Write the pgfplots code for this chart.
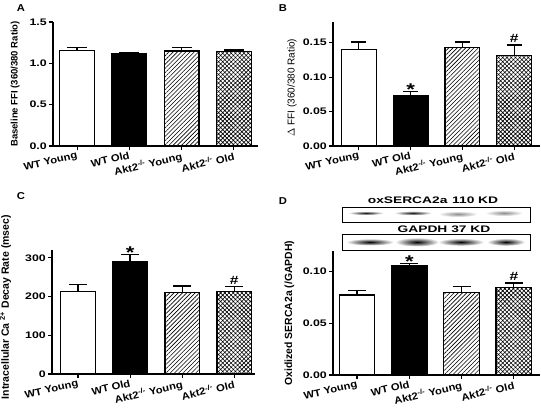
\documentclass[border=0pt]{standalone}
\usepackage{pgfplots}
\pgfplotsset{compat=1.18}
\usetikzlibrary{patterns.meta}
\usepackage{fontspec}
\setmainfont{Liberation Sans}
\newfontfamily\xtf{Liberation Sans}[FakeStretch=1.12]
\newfontfamily\ytf{Liberation Sans}[FakeStretch=1.3]
\newfontfamily\blf{Liberation Sans}[FakeStretch=1.45]
\pgfplotsset{
  panel/.style={
    scale only axis, height=124pt, ymin=0,
    axis x line*=bottom, axis y line*=left,
    axis line style={line width=1.2pt,-},
    tick style={line width=1.1pt,black},
    tick align=outside, major tick length=4pt,
    xtick={1,2,3,4},
    xticklabels={WT Young, WT Old, Akt2\textsuperscript{-/-} Young, Akt2\textsuperscript{-/-} Old},
    xticklabel style={rotate=13, anchor=north east, inner sep=1pt, font=\xtf\bfseries\fontsize{10}{12}\selectfont},
    yticklabel style={font=\ytf\bfseries\fontsize{9.5}{11}\selectfont, inner sep=2pt},
    /pgf/number format/assume math mode=true,
    ylabel style={font=\bfseries\fontsize{10}{11}\selectfont, anchor=center},
    clip=false,
  },
  bb/.style={ybar, bar shift=0pt, draw=black, line width=1.2pt,
    error bars/y dir=plus, error bars/y explicit,
    error bars/error bar style={line width=1.2pt, black},
    error bars/error mark options={rotate=90, mark size=#1, line width=1.2pt, black}},
}
\tikzset{
  hatchA/.style={pattern={Lines[angle=45,distance=3pt,line width=0.6pt]}},
  hatchB/.style={pattern={Hatch[angle=45,distance=3pt,line width=0.6pt]}},
  sigstar/.style={font=\ytf\bfseries\fontsize{17}{17}\selectfont, anchor=south, inner sep=0pt, yshift=-4pt},
  sighash/.style={font=\ytf\bfseries\fontsize{12}{12}\selectfont, anchor=south, inner sep=0pt, yshift=2pt},
}
\begin{document}
\begin{tikzpicture}
\path[use as bounding box] (0,0) rectangle (541pt,416pt);

% Panel A
\begin{axis}[panel, width=205pt, at={(53pt,270pt)}, anchor=south west,
  xmin=0.54, xmax=4.46, ymax=1.5, ytick={0,0.5,1.0,1.5},
  yticklabel style={/pgf/number format/.cd, fixed, fixed zerofill, precision=1},
  ylabel={Baseline FFI (360/380 Ratio)},
  ylabel style={font=\bfseries\fontsize{9.5}{11}\selectfont, at={(axis description cs:-0.185,0.5)}}]
\addplot[bar width=0.66, bb=10pt, fill=white] coordinates {(1,1.151) +- (0,0.036)};
\addplot[bar width=0.66, bb=10pt, fill=black] coordinates {(2,1.120) +- (0,0.014)};
\addplot[bar width=0.66, bb=10pt, fill=white, hatchA] coordinates {(3,1.150) +- (0,0.044)};
\addplot[bar width=0.66, bb=10pt, fill=white, hatchB] coordinates {(4,1.143) +- (0,0.018)};
\end{axis}

% Panel B
\begin{axis}[panel, width=207pt, at={(333pt,270pt)}, anchor=south west,
  xmin=0.5, xmax=4.5, ymax=0.18, ytick={0,0.05,0.10,0.15},
  yticklabel style={/pgf/number format/.cd, fixed, fixed zerofill, precision=2},
  ylabel={$\Delta$ FFI (360/380 Ratio)},
  ylabel style={font=\fontsize{10}{11}\selectfont, at={(axis description cs:-0.198,0.47)}}]
\addplot[bar width=0.67, bb=7.5pt, fill=white] coordinates {(1,0.140) +- (0,0.011)};
\addplot[bar width=0.67, bb=7.5pt, fill=black] coordinates {(2,0.0738) +- (0,0.005)};
\addplot[bar width=0.67, bb=7.5pt, fill=white, hatchA] coordinates {(3,0.1426) +- (0,0.0085)};
\addplot[bar width=0.67, bb=7.5pt, fill=white, hatchB] coordinates {(4,0.1314) +- (0,0.0152)};
\node[sigstar] at (axis cs:2,0.0788) {*};
\node[sighash] at (axis cs:4,0.1466) {\#};
\end{axis}

% Panel C
\begin{axis}[panel, width=203pt, at={(52pt,42pt)}, anchor=south west,
  xmin=0.5, xmax=4.4, ymax=320, ytick={0,100,200,300},
  ylabel={Intracellular Ca \textsuperscript{2+} Decay Rate (msec)},
  ylabel style={font=\bfseries\fontsize{10.5}{11}\selectfont, at={(axis description cs:-0.23,0.54)}}]
\addplot[bar width=0.66, bb=9pt, fill=white] coordinates {(1,212) +- (0,19)};
\addplot[bar width=0.66, bb=9pt, fill=black] coordinates {(2,289) +- (0,19)};
\addplot[bar width=0.66, bb=9pt, fill=white, hatchA] coordinates {(3,210) +- (0,17)};
\addplot[bar width=0.66, bb=9pt, fill=white, hatchB] coordinates {(4,212) +- (0,14)};
\node[sigstar] at (axis cs:2,308) {*};
\node[sighash] at (axis cs:4,226) {\#};
\end{axis}

% Panel D
\begin{axis}[panel, width=207pt, at={(333pt,41pt)}, anchor=south west,
  xmin=0.54, xmax=4.5, ymax=0.12, ytick={0,0.05,0.10},
  yticklabel style={/pgf/number format/.cd, fixed, fixed zerofill, precision=2},
  ylabel={Oxidized SERCA2a (/GAPDH)},
  ylabel style={font=\bfseries\fontsize{10.4}{11}\selectfont, at={(axis description cs:-0.21,0.5)}}]
\addplot[bar width=0.68, bb=9pt, fill=white] coordinates {(1,0.0775) +- (0,0.0045)};
\addplot[bar width=0.68, bb=9pt, fill=black] coordinates {(2,0.1062) +- (0,0.0018)};
\addplot[bar width=0.68, bb=9pt, fill=white, hatchA] coordinates {(3,0.0795) +- (0,0.0065)};
\addplot[bar width=0.68, bb=9pt, fill=white, hatchB] coordinates {(4,0.0850) +- (0,0.0040)};
\node[sigstar] at (axis cs:2,0.108) {*};
\node[sighash] at (axis cs:4,0.089) {\#};
\end{axis}

% Decorations: panel letters and blot
\begin{scope}[shift={(0,416pt)}, x=1pt, y=-1pt]
\node[font=\xtf\bfseries\fontsize{10}{12}\selectfont] at (21,8) {A};
\node[font=\xtf\bfseries\fontsize{10}{12}\selectfont] at (283,8) {B};
\node[font=\xtf\bfseries\fontsize{10}{12}\selectfont] at (21,196) {C};
\node[font=\xtf\bfseries\fontsize{10}{12}\selectfont] at (283,201) {D};
\node[font=\blf\bfseries\fontsize{9.5}{11}\selectfont] at (433,200) {oxSERCA2a\enspace 110 KD};
\node[font=\blf\bfseries\fontsize{9.5}{11}\selectfont] at (444,229) {GAPDH 37 KD};
\draw[line width=0.8pt, fill=white] (342,207) rectangle (530,222);
\draw[line width=0.8pt, fill=white] (342,234) rectangle (530,250);
% oxSERCA2a bands
\shade[inner color=black!90, outer color=white] (366,213) ellipse [x radius=18pt, y radius=2pt];
\shade[inner color=black!90, outer color=white] (413,213) ellipse [x radius=19pt, y radius=2.2pt];
\shade[inner color=black!45, outer color=white] (458,214) ellipse [x radius=20pt, y radius=3pt];
\shade[inner color=black!45, outer color=white] (504,213) ellipse [x radius=19pt, y radius=3pt];
% GAPDH bands
\shade[inner color=black, outer color=white] (370,242) ellipse [x radius=24pt, y radius=3.5pt];
\shade[inner color=black, outer color=white] (417,242) ellipse [x radius=22pt, y radius=4.5pt];
\shade[inner color=black, outer color=white] (461,242) ellipse [x radius=23pt, y radius=3.8pt];
\shade[inner color=black, outer color=white] (506,242) ellipse [x radius=19pt, y radius=3.8pt];
\end{scope}
\end{tikzpicture}
\end{document}
